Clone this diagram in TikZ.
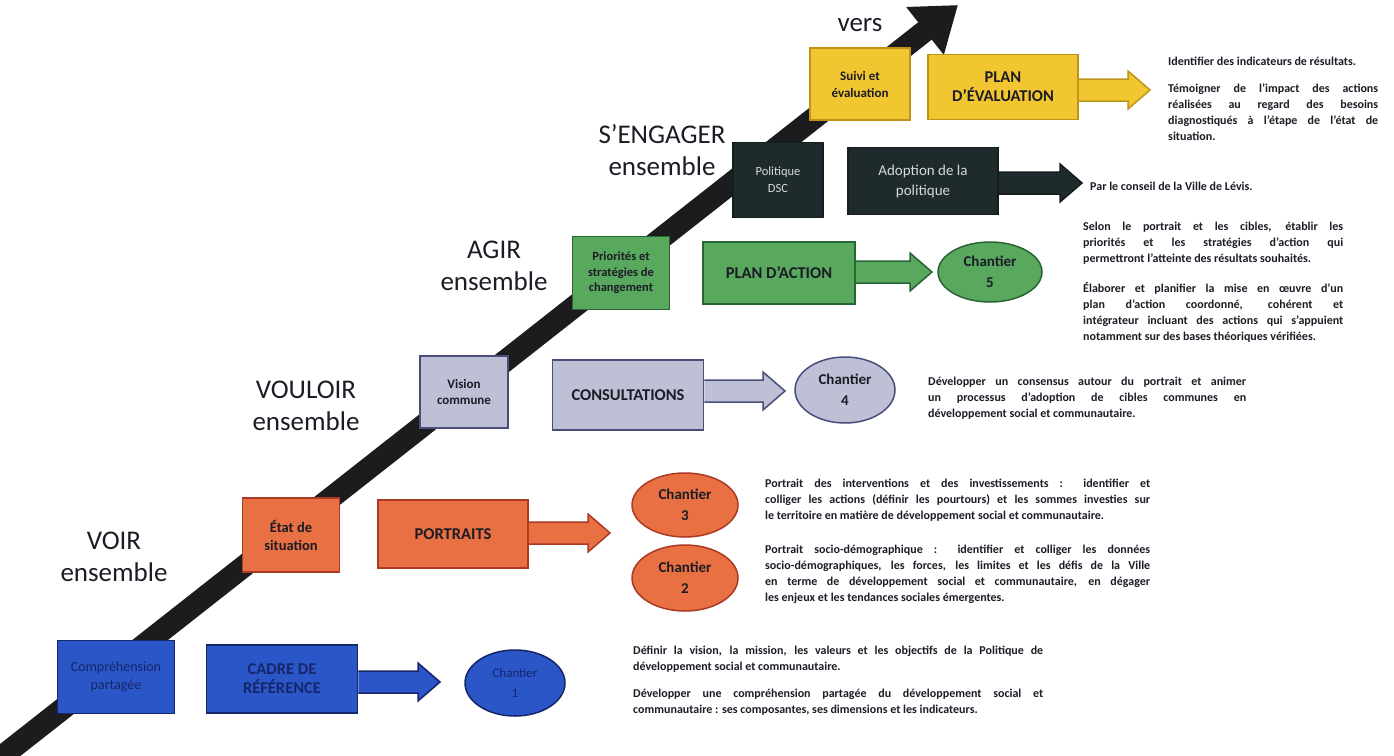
\documentclass[tikz,border=0pt]{standalone}
\usepackage{fontspec}
\setmainfont{Carlito}
\usetikzlibrary{arrows.meta,calc,shapes.geometric}

\definecolor{ligne}{RGB}{28,28,30}
\definecolor{encre}{RGB}{28,28,38}
\definecolor{bleu}{RGB}{42,86,200}
\definecolor{bleuF}{RGB}{22,38,105}
\definecolor{orangeC}{RGB}{232,112,66}
\definecolor{orangeF}{RGB}{170,58,36}
\definecolor{lavande}{RGB}{190,192,214}
\definecolor{lavandeF}{RGB}{72,78,120}
\definecolor{vert}{RGB}{88,168,94}
\definecolor{vertF}{RGB}{40,100,52}
\definecolor{sombre}{RGB}{30,42,44}
\definecolor{jaune}{RGB}{242,198,48}
\definecolor{jauneF}{RGB}{190,148,24}

% fleche pleine : couleur, bord, noeud de depart, pointe
\newcommand{\fleche}[4]{%
  \filldraw[fill=#1, draw=#2, line width=1.5pt]
    ($(#3.east |- #4)+(0,-11)$) -- ($(#4)+(-22,-11)$) -- ($(#4)+(-22,-19)$) -- (#4)
    -- ($(#4)+(-22,19)$) -- ($(#4)+(-22,11)$) -- ($(#3.east |- #4)+(0,11)$);}

\begin{document}
\begin{tikzpicture}[x=1pt,y=-1pt,
    etape/.style={draw, line width=1.5pt, align=center, inner sep=2pt,
      font=\bfseries\fontsize{16.5}{19}\selectfont, text=encre},
    chantier/.style={ellipse, draw, line width=1.5pt, align=center, inner sep=0pt,
      font=\bfseries\fontsize{15}{21}\selectfont, text=encre},
    niveau/.style={align=center, font=\fontsize{27}{32}\selectfont, text=encre},
    texte/.style={anchor=north west, inner sep=0pt, align=justify,
      font=\bfseries\fontsize{12}{16}\selectfont, text=encre}]
	\useasboundingbox (0,0) rectangle (1394,755);
	
	% la grande fleche
	\coordinate (depart) at (0,758);
	\coordinate (fin) at (958,5);
	\draw[line width=22pt, color=ligne, -{Triangle[length=42pt,width=58pt]}] (depart) -- (fin);
	
	% niveaux
	\node[niveau] (voir) at (114,557) {VOIR\\ensemble};
	\node[niveau] (vouloir) at (306,406) {VOULOIR\\ensemble};
	\node[niveau] (agir) at (494,266) {AGIR\\ensemble};
	\node[niveau] (engager) at (662,150) {S'ENGAGER\\ensemble};
	\node[niveau] (vers) at (860,25) {vers};
	
	% chantier 1
	\node[etape, fill=bleu, draw=bleuF, text=bleuF, font=\fontsize{14}{18}\selectfont,
	  minimum width=117pt, minimum height=73pt] (compr) at (116,677) {Compréhension\\partagée};
	\node[etape, fill=bleu, draw=bleuF, text=bleuF, minimum width=151pt, minimum height=68pt]
	  (cadre) at (282,679) {CADRE DE\\RÉFÉRENCE};
	\coordinate (p1) at (440,682);
	\fleche{bleu}{bleuF}{cadre}{p1}
	\node[chantier, fill=bleu, draw=bleuF, text=bleuF, font=\fontsize{13}{20}\selectfont,
	  minimum width=100pt, minimum height=66pt] (ch1) at (515,683) {Chantier\\1};
	\node[texte, text width=410pt] (t1a) at (633,646) {Définir la vision, la mission, les valeurs et les objectifs de la Politique de\linebreak développement social et communautaire.};
	\node[texte, text width=410pt] (t1b) at (633,689) {Développer une compréhension partagée du développement social et\linebreak communautaire : ses composantes, ses dimensions et les indicateurs.};
	
	% chantiers 2 et 3
	\node[etape, fill=orangeC, draw=orangeF, font=\bfseries\fontsize{14.5}{18}\selectfont,
	  minimum width=97pt, minimum height=74pt] (etat) at (291,535) {État de\\situation};
	\node[etape, fill=orangeC, draw=orangeF, minimum width=150pt, minimum height=68pt]
	  (portraits) at (453,534) {PORTRAITS};
	\coordinate (p2) at (610,533);
	\fleche{orangeC}{orangeF}{portraits}{p2}
	\node[chantier, fill=orangeC, draw=orangeF, minimum width=106pt, minimum height=64pt]
	  (ch3) at (685,505) {Chantier\\3};
	\node[chantier, fill=orangeC, draw=orangeF, minimum width=106pt, minimum height=66pt]
	  (ch2) at (685,578) {Chantier\\2};
	\node[texte, text width=385pt] (t3) at (765,479) {Portrait des interventions et des investissements : identifier et\linebreak colliger les actions (définir les pourtours) et les sommes investies sur\linebreak le territoire en matière de développement social et communautaire.};
	\node[texte, text width=385pt] (t2) at (765,545) {Portrait socio-démographique : identifier et colliger les données\linebreak socio-démographiques, les forces, les limites et les défis de la Ville\linebreak en terme de développement social et communautaire, en dégager\linebreak les enjeux et les tendances sociales émergentes.};
	
	% chantier 4
	\node[etape, fill=lavande, draw=lavandeF, font=\bfseries\fontsize{13}{16}\selectfont,
	  minimum width=88pt, minimum height=72pt] (vision) at (464,392) {Vision\\commune};
	\node[etape, fill=lavande, draw=lavandeF, minimum width=151pt, minimum height=70pt]
	  (consult) at (628,395) {CONSULTATIONS};
	\coordinate (p4) at (785,391);
	\fleche{lavande}{lavandeF}{consult}{p4}
	\node[chantier, fill=lavande, draw=lavandeF, minimum width=100pt, minimum height=66pt]
	  (ch4) at (845,390) {Chantier\\4};
	\node[texte, text width=318pt] (t4) at (928,377) {Développer un consensus autour du portrait et animer\linebreak un processus d'adoption de cibles communes en\linebreak développement social et communautaire.};
	
	% chantier 5
	\node[etape, fill=vert, draw=vertF, font=\bfseries\fontsize{12.5}{15.5}\selectfont,
	  minimum width=97pt, minimum height=73pt] (prio) at (621,273) {Priorités et\\stratégies de\\changement};
	\node[etape, fill=vert, draw=vertF, minimum width=152pt, minimum height=62pt]
	  (plan) at (779,273) {PLAN D'ACTION};
	\coordinate (p5) at (932,272);
	\fleche{vert}{vertF}{plan}{p5}
	\node[chantier, fill=vert, draw=vertF, minimum width=104pt, minimum height=60pt]
	  (ch5) at (990,272) {Chantier\\5};
	\node[texte, text width=260pt] (t5a) at (1083,222) {Selon le portrait et les cibles, établir les\linebreak priorités et les stratégies d'action qui\linebreak permettront l'atteinte des résultats souhaités.};
	\node[texte, text width=260pt] (t5b) at (1083,282) {Élaborer et planifier la mise en œuvre d'un\linebreak plan d'action coordonné, cohérent et\linebreak intégrateur incluant des actions qui s'appuient\linebreak notamment sur des bases théoriques vérifiées.};
	
	% politique
	\node[etape, fill=sombre, draw=sombre!70!black, text=white!85!black,
	  font=\fontsize{12.5}{17}\selectfont, minimum width=90pt, minimum height=75pt]
	  (pol) at (778,180) {Politique\\DSC};
	\node[etape, fill=sombre, draw=sombre!70!black, text=white!85!black,
	  font=\fontsize{15}{20}\selectfont, minimum width=150pt, minimum height=67pt]
	  (adopt) at (923,181) {Adoption de la\\politique};
	\coordinate (p6) at (1082,183);
	\fleche{sombre}{sombre!70!black}{adopt}{p6}
	\node[texte, anchor=west] (t6) at (1090,186) {Par le conseil de la Ville de Lévis.};
	
	% suivi
	\node[etape, fill=jaune, draw=jauneF, font=\bfseries\fontsize{13}{17}\selectfont,
	  minimum width=100pt, minimum height=72pt] (suivi) at (860,84) {Suivi et\\évaluation};
	\node[etape, fill=jaune, draw=jauneF, minimum width=150pt, minimum height=65pt]
	  (eval) at (1003,87) {PLAN\\D'ÉVALUATION};
	\coordinate (p7) at (1150,90);
	\fleche{jaune}{jauneF}{eval}{p7}
	\node[texte, text width=210pt] (t7a) at (1168,57) {Identifier des indicateurs de résultats.};
	\node[texte, text width=210pt] (t7b) at (1168,84) {Témoigner de l'impact des actions\linebreak réalisées au regard des besoins\linebreak diagnostiqués à l'étape de l'état de\linebreak situation.};
\end{tikzpicture}
\end{document}
